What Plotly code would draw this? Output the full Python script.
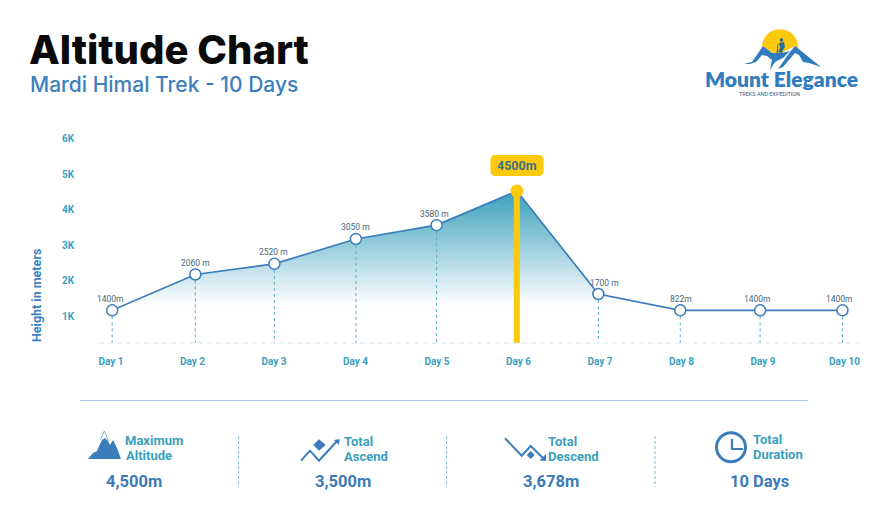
import plotly.graph_objects as go

days = ["Day 1", "Day 2", "Day 3", "Day 4", "Day 5", "Day 6", "Day 7", "Day 8", "Day 9", "Day 10"]
# where each point sits along the axis (not quite on the ticks)
day_pos = [1.015, 2.035, 3.005, 4.005, 4.995, 5.98, 6.98, 7.985, 8.965, 9.975]
# plotted heights as drawn against the axis; the printed labels disagree with them
heights = [1160, 2170, 2470, 3170, 3560, 4520, 1620, 1160, 1160, 1160]
height_labels = ["1400m", "2060 m", "2520 m", "3050 m", "3580 m", "4500m", "1700 m", "822m", "1400m", "1400m"]
y_ticks = [1000, 2000, 3000, 4000, 5000, 6000]
y_tick_labels = ["1K", "2K", "3K", "4K", "5K", "6K"]
peak = 5

stat_titles = [["Maximum", "Altitude"], ["Total", "Ascend"], ["Total", "Descend"], ["Total", "Duration"]]
stat_values = ["4,500m", "3,500m", "3,678m", "10 Days"]

BLUE = "#3b7dbb"
TEAL = "#3a9fbd"
YELLOW = "#fcc90c"
FONT = "Roboto"

# plot box in page pixels
L, T, W, H = 99, 130, 760, 213


def px(x):
    return (x - L) / W


def py(y):
    return (T + H - y) / H


def path(points, close=True):
    d = "M" + " L".join(f"{px(x):.5f},{py(y):.5f}" for x, y in points)
    return d + (" Z" if close else "")


shapes = []
annotations = []


def poly(points, color=BLUE):
    shapes.append(dict(type="path", xref="paper", yref="paper", path=path(points),
                       fillcolor=color, line=dict(width=0)))


def stroke(points, color=BLUE, width=2):
    shapes.append(dict(type="path", xref="paper", yref="paper", path=path(points, close=False),
                       line=dict(color=color, width=width)))


def circle(cx, cy, r, fill=None, color=BLUE, width=0):
    shapes.append(dict(type="circle", xref="paper", yref="paper",
                       x0=px(cx - r), x1=px(cx + r), y0=py(cy + r), y1=py(cy - r),
                       fillcolor=fill if fill else "rgba(0,0,0,0)",
                       line=dict(color=color, width=width)))


def seg(x0, y0, x1, y1, color, width=1, dash="solid"):
    shapes.append(dict(type="line", xref="paper", yref="paper",
                       x0=px(x0), x1=px(x1), y0=py(y0), y1=py(y1),
                       line=dict(color=color, width=width, dash=dash)))


def label(x, y, text, size, color, weight=700, family=FONT, anchor="left", angle=0):
    annotations.append(dict(xref="paper", yref="paper", x=px(x), y=py(y), text=text, showarrow=False,
                            xanchor=anchor, yanchor="middle", textangle=angle,
                            font=dict(family=family, size=size, color=color, weight=weight)))


fig = go.Figure()

fig.add_trace(go.Scatter(x=day_pos, y=heights, mode="lines", line=dict(color=BLUE, width=1.7),
                         fill="tozeroy",
                         fillgradient=dict(type="vertical", start=1300, stop=4520,
                                           colorscale=[[0, "#ffffff"], [1, "#3a9fbd"]])))

drop_x, drop_y = [], []
for i in range(len(days)):
    if i != peak:
        drop_x += [day_pos[i], day_pos[i], None]
        drop_y += [heights[i], 0, None]
fig.add_trace(go.Scatter(x=drop_x, y=drop_y, mode="lines",
                         line=dict(color="#5cacc6", width=1, dash="3px,3px")))

mark_x = [p for i, p in enumerate(day_pos) if i != peak]
mark_y = [h for i, h in enumerate(heights) if i != peak]
fig.add_trace(go.Scatter(x=mark_x, y=mark_y, mode="markers",
                         marker=dict(size=11, color="white", line=dict(color=BLUE, width=1.5))))

fig.add_trace(go.Scatter(x=[day_pos[peak], day_pos[peak]], y=[0, heights[peak]], mode="lines",
                         line=dict(color=YELLOW, width=6)))
fig.add_trace(go.Scatter(x=[day_pos[peak]], y=[heights[peak]], mode="markers",
                         marker=dict(size=13, color=YELLOW)))

# value labels over the points
label_dx = [-2, 0, -1, 0, -2, 0, 6, 1, -3, -3]
for i, txt in enumerate(height_labels):
    if i != peak:
        annotations.append(dict(x=day_pos[i], y=heights[i], text=txt, showarrow=False,
                                xshift=label_dx[i], yshift=11.5,
                                font=dict(family=FONT, size=8.5, color="#46667c")))

# peak badge
bx0, bx1, by0, by1, r = 490.5, 543.5, 155, 176, 3
shapes.append(dict(type="path", xref="paper", yref="paper", fillcolor=YELLOW, line=dict(width=0),
                   path=path([(bx0 + r, by0), (bx1 - r, by0), (bx1, by0 + r), (bx1, by1 - r),
                              (bx1 - r, by1), (bx0 + r, by1), (bx0, by1 - r), (bx0, by0 + r)])))
label(517, 165.5, height_labels[peak], 12.5, "#3f7088", anchor="center")

# headings
label(27, 50, "Altitude Chart", 40, "#0a0a0a", weight=800, family="Inter")
label(28, 84, "Mardi Himal Trek - 10 Days", 21, "#3d80bd", weight=500, family="Inter")
label(36, 296, "Height in meters", 12.5, "#3d80bd", anchor="center", angle=-90)

# baseline and footer rules
seg(99, 343, 859, 343, "#d3e5ec", 1, "5px,4px")
seg(80, 400.5, 808, 400.5, "#a9c9ef", 1.2)
for x in [238.5, 446.5, 655]:
    seg(x, 436, x, 487, "#86c0d4", 1, "3px,2px")

# logo
circle(780, 47.5, 18.3, fill=YELLOW, color=YELLOW)
poly([(744, 64), (752, 62), (763, 46), (772, 53), (781, 53), (795, 46), (821, 67), (821, 72), (744, 72)], "white")
poly([(744, 64), (752, 62), (763, 46), (772, 53), (781, 53), (790, 51), (783, 58), (775, 62), (770, 70),
      (772, 60), (767, 56), (762, 55), (756, 62), (750, 64)], "#2f7cc0")
poly([(795, 46), (821, 67), (809, 63), (803, 62), (799, 55), (795, 53), (789, 60), (783, 67), (778, 69), (790, 52)],
     "#2f7cc0")
poly([(779, 43), (784, 42), (785, 47), (783, 50), (782, 53), (778, 52), (780, 48)], "#2a6d8f")
circle(781.5, 40, 1.8, fill="#2a6d8f", color="#2a6d8f")
stroke([(777, 53), (778, 44)], "#2a6d8f", 1)
label(703, 78.5, "Mount Elegance", 21, "#2f7cc0", weight=800, family="Lato")
label(737, 94.5, "TREKS AND EXPEDITION", 5.5, "#2b5f8f", weight=400)

# footer icons
poly([(88, 459), (93, 453), (97, 451), (100, 444), (102, 440), (105, 438), (108, 441), (110, 445), (113, 440),
      (117, 448), (121, 459)])
stroke([(100.5, 440), (104.3, 431), (108.5, 441)], "#7fb0da", 1)
stroke([(301, 460.7), (310, 450.7), (319, 460.7), (338, 440)], BLUE, 2)
poly([(334, 440), (339.7, 439.3), (339, 445)])
poly([(313.3, 445), (319, 439.3), (325.7, 445), (319, 450.7)])
stroke([(505, 438.3), (521.7, 455.7), (530.7, 446), (545, 460)], BLUE, 2)
poly([(546, 454), (546, 460.7), (539.3, 460.7)])
poly([(530.7, 451), (534.7, 455), (530.7, 459), (526.7, 455)])
circle(731, 447.3, 14.5, color=BLUE, width=3)
stroke([(732, 439), (732, 449), (743, 449)], BLUE, 2.2)

# footer text
title_pos = [(123, 440), (342, 441), (546, 441), (750.5, 439)]
value_pos = [134, 342.5, 551, 759]
for (x, y), lines, cx, val in zip(title_pos, stat_titles, value_pos, stat_values):
    label(x, y, lines[0], 13, TEAL)
    label(x + (1 if lines[1] == "Altitude" else 0), y + 15, lines[1], 13, TEAL)
    label(cx, 481, val, 16.5, "#3b7ab8", anchor="center")

fig.update_layout(
    width=888, height=521, autosize=False,
    margin=dict(l=L, r=888 - L - W, t=T, b=521 - T - H),
    paper_bgcolor="white", plot_bgcolor="white", showlegend=False, hovermode=False,
    shapes=shapes, annotations=annotations,
    xaxis=dict(range=[0.853, 10.178], tickvals=list(range(1, 11)), ticktext=days,
               showgrid=False, zeroline=False, showline=False,
               ticks="outside", ticklen=9, tickcolor="rgba(0,0,0,0)",
               tickfont=dict(family=FONT, size=10, color=TEAL, weight=700)),
    yaxis=dict(range=[240, 6240], tickvals=y_ticks, ticktext=y_tick_labels,
               showgrid=False, zeroline=False, showline=False,
               ticks="outside", ticklen=22, tickcolor="rgba(0,0,0,0)",
               tickfont=dict(family=FONT, size=10, color=TEAL, weight=700)),
)

fig.write_html("out.html", config=dict(displayModeBar=False),
               post_script="document.body.style.margin='0';")
